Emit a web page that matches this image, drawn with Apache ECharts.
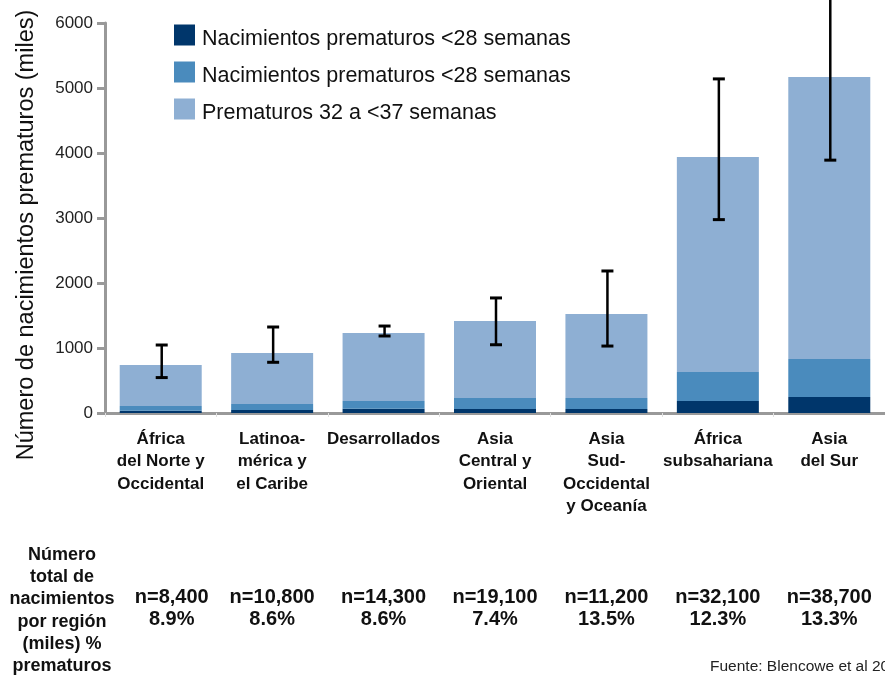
<!DOCTYPE html>
<html>
<head>
<meta charset="utf-8">
<script src="https://cdn.jsdelivr.net/npm/echarts@6/dist/echarts.min.js"></script>
<style>html,body{margin:0;padding:0;background:#fff;}#c{width:885px;height:675px;}</style>
</head>
<body>
<div id="c"></div>
<script>
var categories = ['África\ndel Norte y\nOccidental', 'Latinoa-\nmérica y\nel Caribe', 'Desarrollados', 'Asia\nCentral y\nOriental', 'Asia\nSud-\nOccidental\ny Oceanía', 'África\nsubsahariana', 'Asia\ndel Sur'];
var extremos = [35, 46, 65, 62, 62, 185, 246];
var muy = [73, 92, 120, 168, 168, 445, 584];
var moderados = [632, 787, 1045, 1185, 1293, 3310, 4340];
var errLow = [545, 780, 1185, 1050, 1030, 2975, 3890];
var errHigh = [1046, 1323, 1338, 1770, 2185, 5140, 6450];
var nTotal = ['n=8,400', 'n=10,800', 'n=14,300', 'n=19,100', 'n=11,200', 'n=32,100', 'n=38,700'];
var pctPrem = ['8.9%', '8.6%', '8.6%', '7.4%', '13.5%', '12.3%', '13.3%'];
var legendLabels = ['Nacimientos prematuros <28 semanas', 'Nacimientos prematuros <28 semanas', 'Prematuros 32 a <37 semanas'];
var yTicks = [0, 1000, 2000, 3000, 4000, 5000, 6000];
var yTitle = 'Número de nacimientos prematuros (miles)';
var leftNote = 'Número\ntotal de\nnacimientos\npor región\n(miles) %\nprematuros';
var source = 'Fuente: Blencowe et al 2012';

var FONT = '"Liberation Sans", Arial, Helvetica, sans-serif';
var colors = ['#00366b', '#4a8bbd', '#8eafd3'];
var seriesKeys = ['s0', 's1', 's2'];

var chart = echarts.init(document.getElementById('c'));
var bottomLabels = nTotal.map(function (n, i) {
  var item = { value: n + '\n' + pctPrem[i] };
  if (i === 0) { item.textStyle = { padding: [0, 0, 0, 22] }; }
  return item;
});
var errData = errLow.map(function (lo, i) { return [i, lo, errHigh[i]]; });

chart.setOption({
  animation: false,
  textStyle: { fontFamily: FONT },
  grid: { left: 105, top: 23, width: 791, height: 390 },
  legend: {
    orient: 'vertical', left: 174, top: 23.5, padding: 0,
    itemWidth: 21, itemHeight: 21, itemGap: 10,
    icon: 'rect',
    data: seriesKeys,
    formatter: function (name) { return '{s| }\n{t|' + legendLabels[seriesKeys.indexOf(name)] + '}'; },
    textStyle: {
      fontSize: 21.5, color: '#111', fontFamily: FONT,
      rich: {
        s: { fontSize: 2, lineHeight: 9, padding: [0, 0, 0, 2] },
        t: { fontSize: 21.5, lineHeight: 21, color: '#111', fontFamily: FONT, padding: [0, 0, 0, 2] }
      }
    },
    selectedMode: false
  },
  xAxis: [{
    type: 'category',
    data: categories,
    axisLine: { lineStyle: { color: '#999', width: 3 } },
    axisTick: { show: true, length: 4, lineStyle: { color: '#e0e0e0', width: 1 } },
    axisLabel: { interval: 0, margin: 15, fontSize: 17, fontWeight: 'bold', color: '#111', lineHeight: 22.5, fontFamily: FONT }
  }, {
    type: 'category',
    data: bottomLabels,
    position: 'bottom',
    offset: 165,
    axisLine: { show: false },
    axisTick: { show: false },
    axisLabel: { interval: 0, margin: 8, fontSize: 20, fontWeight: 'bold', color: '#111', lineHeight: 22, fontFamily: FONT }
  }],
  yAxis: {
    type: 'value', min: 0, max: 6000, interval: 1000,
    axisLine: { show: true, lineStyle: { color: '#999', width: 3 } },
    axisTick: { show: true, length: 8, lineStyle: { color: '#999', width: 3 } },
    axisLabel: { fontSize: 17, color: '#222', margin: 12, fontFamily: FONT,
      formatter: function (v) { return yTicks.indexOf(v) >= 0 ? String(v) : ''; } },
    splitLine: { show: false }
  },
  series: [
    { name: 's0', type: 'bar', stack: 'p', data: extremos, barWidth: 82, itemStyle: { color: colors[0] } },
    { name: 's1', type: 'bar', stack: 'p', data: muy, barWidth: 82, itemStyle: { color: colors[1] } },
    { name: 's2', type: 'bar', stack: 'p', data: moderados, barWidth: 82, itemStyle: { color: colors[2] } },
    {
      type: 'custom', name: 'err', data: errData, z: 10, clip: false,
      renderItem: function (params, api) {
        var x = api.value(0);
        var lo = api.coord([x, api.value(1)]);
        var hi = api.coord([x, api.value(2)]);
        var cap = 6;
        var st = { stroke: '#000', lineWidth: 2.5 };
        return {
          type: 'group',
          children: [
            { type: 'line', shape: { x1: lo[0] + 1, y1: lo[1], x2: hi[0] + 1, y2: hi[1] }, style: st },
            { type: 'line', shape: { x1: lo[0] + 1 - cap, y1: lo[1], x2: lo[0] + 1 + cap, y2: lo[1] }, style: { stroke: '#000', lineWidth: 3 } },
            { type: 'line', shape: { x1: hi[0] + 1 - cap, y1: hi[1], x2: hi[0] + 1 + cap, y2: hi[1] }, style: { stroke: '#000', lineWidth: 3 } }
          ]
        };
      }
    }
  ],
  graphic: [
    { type: 'text', x: 27, y: 235, rotation: Math.PI / 2, style: { text: yTitle, align: 'center', verticalAlign: 'middle', fontSize: 23.5, fill: '#111', fontFamily: FONT } },
    { type: 'text', x: 62, y: 544, style: { text: leftNote, align: 'center', verticalAlign: 'top', fontSize: 18, fontWeight: 'bold', lineHeight: 22.2, fill: '#111', fontFamily: FONT } },
    { type: 'text', x: 710, y: 667, style: { text: source, align: 'left', verticalAlign: 'middle', fontSize: 15.5, fill: '#222', fontFamily: FONT } }
  ]
});
</script>
</body>
</html>
